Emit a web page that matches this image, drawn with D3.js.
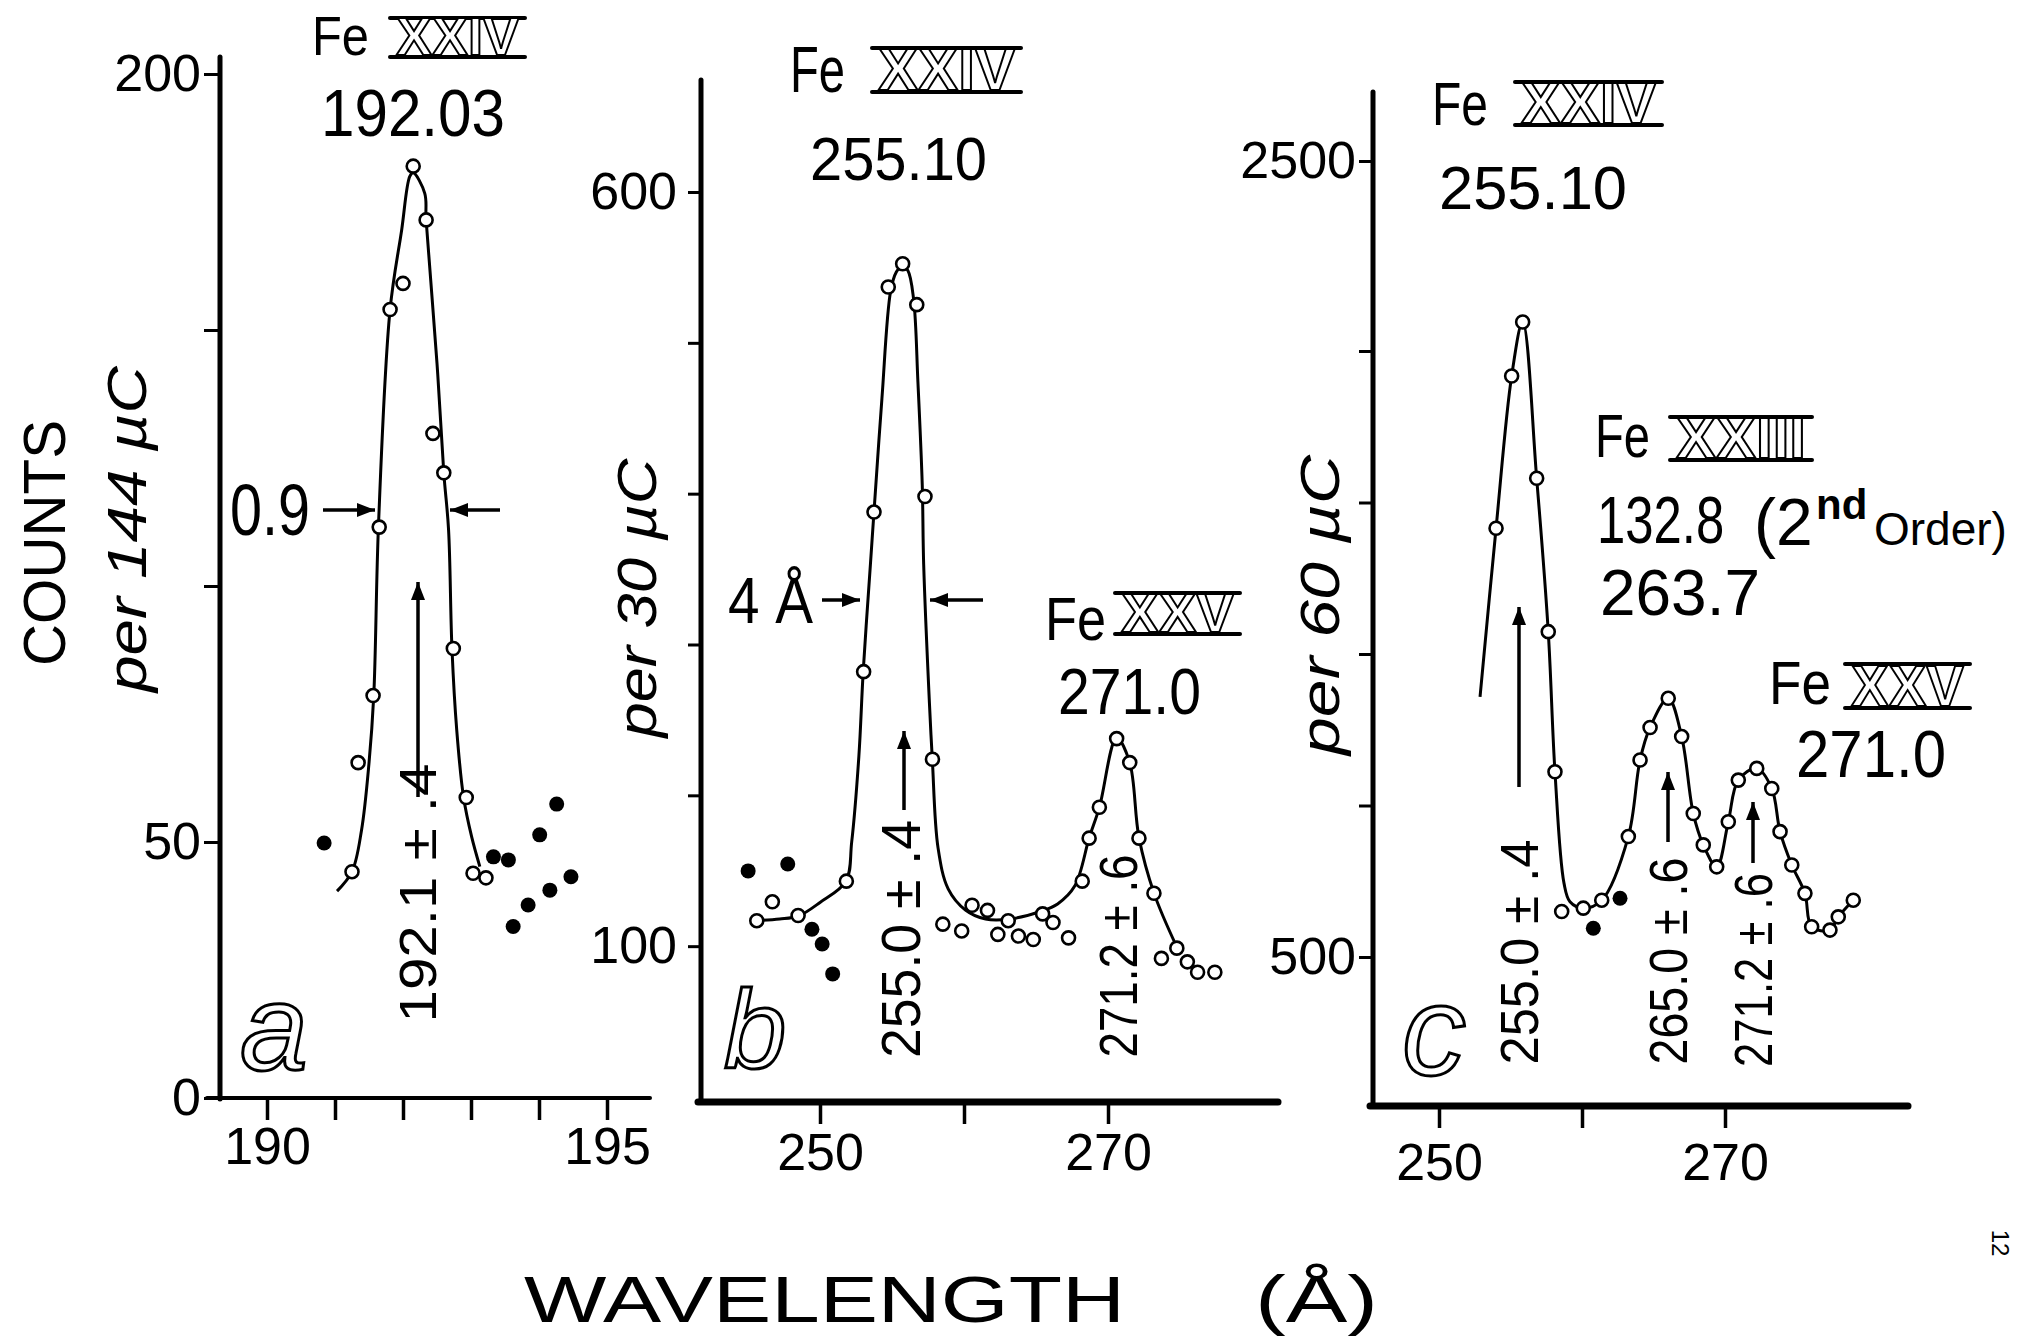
<!DOCTYPE html>
<html><head><meta charset="utf-8">
<script src="https://cdn.jsdelivr.net/npm/d3@7"></script>
<style>
html,body{margin:0;padding:0;background:#fff;}
svg{display:block;background:#fff;}
text{font-family:"Liberation Sans","DejaVu Sans",sans-serif;fill:#000;}
</style></head><body>
<svg id="chart" width="2028" height="1337"></svg>
<script>
// ================= DATA =================
// Panel a : Fe XXIV 192.03
const aYTicks = [0, 50, 100, 150, 200];
const aYLabeled = [0, 50, 200];
const aXTicks = [190, 191, 192, 193, 194, 195];
const aXLabeled = [190, 195];
const aCurveX = [191.03, 191.25, 191.39, 191.50, 191.57, 191.64, 191.81, 191.98, 192.10, 192.15, 192.32, 192.34, 192.50, 192.60, 192.67, 192.72, 192.79, 192.89, 193.01, 193.13];
const aCurveY = [40.4, 44.2, 52.3, 65.4, 78.6, 112, 154, 169.5, 180, 180.7, 176.7, 171.5, 143.5, 122.1, 111, 87.8, 71.9, 58.8, 51, 45.2];
const aOpenX = [191.25, 191.34, 191.56, 191.65, 191.81, 192.00, 192.15, 192.34, 192.44, 192.60, 192.74, 192.93, 193.03, 193.22];
const aOpenY = [44.2, 65.5, 78.6, 111.5, 154.0, 159.1, 182.0, 171.5, 129.8, 122.1, 87.8, 58.7, 43.9, 43.0];
const aFilledX = [190.84, 193.33, 193.55, 193.62, 193.84, 194.16, 194.01, 194.26, 194.47];
const aFilledY = [49.8, 47.1, 46.5, 33.5, 37.7, 40.6, 51.4, 57.4, 43.2];

// Panel b : Fe XXIV 255.10 / Fe XXV 271.0
const bYTicks = [100, 200, 300, 400, 500, 600];
const bYLabeled = [100, 600];
const bXTicks = [250, 260, 270];
const bXLabeled = [250, 270];
const bCurveX = [245.6, 247.2, 248.5, 250.0, 251.8, 252.2, 252.7, 253.0, 253.5, 253.75, 254.3, 254.9, 255.3, 255.7, 256.1, 256.5, 256.8, 257.1, 257.2, 257.6, 257.8, 258.2, 258.9, 260.1, 261.5, 263.2, 265.3, 266.5, 267.7, 268.7, 269.4, 270.6, 271.5, 272.15, 273.2, 274.8];
const bCurveY = [117, 118, 120, 129, 143, 169, 226, 282, 353, 388, 463, 534, 547, 551, 548, 529, 474, 406, 353, 261, 224, 165, 138, 124, 118, 118, 123, 128, 140, 172, 192, 238, 222, 172, 135, 99];
const bOpenX = [245.61, 246.69, 248.48, 251.83, 253.03, 253.75, 254.74, 255.74, 256.72, 257.29, 257.81, 258.53, 259.84, 260.56, 261.63, 262.35, 263.07, 263.78, 264.81, 265.46, 266.18, 267.26, 268.21, 268.69, 269.40, 270.60, 271.51, 272.15, 273.19, 274.78, 273.71, 275.51, 276.22, 277.42];
const bOpenY = [116.9, 129.4, 120.3, 143.1, 282, 387.8, 537, 552.4, 525.3, 398.1, 223.9, 114.6, 110.1, 127.1, 123.7, 107.8, 116.9, 106.7, 104.4, 121.4, 115.7, 105.5, 143.1, 171.6, 192.1, 237.6, 221.7, 171.6, 135.1, 98.7, 91.9, 89.6, 82.7, 82.7];
const bFilledX = [245.01, 247.76, 249.44, 250.15, 250.88];
const bFilledY = [149.9, 154.5, 111.2, 101.4, 81.6];

// Panel c : Fe XXIV 255.10 / Fe XXIII 263.7 / Fe XXV 271.0
const cYTicks = [500, 900, 1300, 1700, 2100, 2500];
const cYLabeled = [500, 2500];
const cXTicks = [250, 260, 270];
const cXLabeled = [250, 270];
const cCurveX = [252.87, 253.99, 255.08, 255.85, 256.83, 257.64, 258.11, 258.74, 259.16, 260.09, 261.38, 263.24, 264.06, 264.76, 266.03, 266.97, 267.78, 268.48, 269.42, 270.23, 270.93, 272.22, 273.27, 273.85, 274.67, 275.59, 276.06, 277.34, 277.92, 278.97];
const cCurveY = [1187, 1632, 2034, 2161, 1764, 1359, 989, 695, 646, 629, 650, 818, 1020, 1106, 1183, 1082, 879, 796, 738, 857, 967, 998, 945, 831, 743, 668, 580, 571, 606, 650];
const cOpenX = [253.99, 255.08, 255.85, 256.83, 257.64, 258.11, 258.58, 260.09, 261.38, 263.24, 264.06, 264.76, 266.03, 266.97, 267.78, 268.48, 269.42, 270.23, 270.93, 272.22, 273.27, 273.85, 274.67, 275.59, 276.06, 277.34, 277.92, 278.97];
const cOpenY = [1632, 2034, 2161, 1764, 1359, 989, 620, 629, 650, 818, 1020, 1106, 1183, 1082, 879, 796, 738, 857, 967, 998, 945, 831, 743, 668, 580, 571, 606, 650];
const cFilledX = [260.79, 262.66];
const cFilledY = [576, 655];

// ================= DRAWING =================
const svg = d3.select("#chart");
const INK = "#000";

const panels = {
  a: {
    x: d3.scaleLinear().domain([190, 195]).range([267, 607]),
    y: d3.scaleLinear().domain([0, 200]).range([1098, 74])
  },
  b: {
    x: d3.scaleLinear().domain([250, 270]).range([820, 1108]),
    y: d3.scaleLinear().domain([0, 600]).range([1097, 192])
  },
  c: {
    x: d3.scaleLinear().domain([250, 270]).range([1439, 1725]),
    y: d3.scaleLinear().domain([500, 2100, 2500]).range([957, 351, 161])
  }
};

function axisLines(x1, y1, x2, y2, w) {
  svg.append("line").attr("x1", x1).attr("y1", y1).attr("x2", x2).attr("y2", y2)
    .attr("stroke", INK).attr("stroke-width", w).attr("stroke-linecap", "round");
}

function yAxis(p, xPos, ticks, labeled, size, pad) {
  const ax = d3.axisLeft(p.y).tickValues(ticks).tickSize(size).tickSizeOuter(0).tickPadding(pad)
    .tickFormat(d => labeled.includes(d) ? String(d) : "");
  const g = svg.append("g").attr("transform", `translate(${xPos},0)`).call(ax)
    .attr("font-family", null).attr("font-size", null);
  g.select(".domain").remove();
  g.selectAll(".tick line").attr("stroke", INK).attr("stroke-width", 3);
  g.selectAll(".tick text").attr("font-size", 52).attr("fill", INK);
}

function xAxis(p, yPos, ticks, labeled, pad) {
  const ax = d3.axisBottom(p.x).tickValues(ticks).tickSize(22).tickSizeOuter(0).tickPadding(pad)
    .tickFormat(d => labeled.includes(d) ? String(d) : "");
  const g = svg.append("g").attr("transform", `translate(0,${yPos})`).call(ax)
    .attr("font-family", null).attr("font-size", null);
  g.select(".domain").remove();
  g.selectAll(".tick line").attr("stroke", INK).attr("stroke-width", 3.5);
  g.selectAll(".tick text").attr("font-size", 52).attr("fill", INK);
}

function series(p, cx, cy, ox, oy, fx, fy) {
  const line = d3.line().x(d => p.x(d[0])).y(d => p.y(d[1])).curve(d3.curveCatmullRom.alpha(0.5));
  svg.append("path").datum(cx.map((v, i) => [v, cy[i]])).attr("d", line)
    .attr("fill", "none").attr("stroke", INK).attr("stroke-width", 3);
  svg.append("g").selectAll("circle").data(ox.map((v, i) => [v, oy[i]])).join("circle")
    .attr("cx", d => p.x(d[0])).attr("cy", d => p.y(d[1])).attr("r", 6.5)
    .attr("fill", "#fff").attr("stroke", INK).attr("stroke-width", 2.6);
  svg.append("g").selectAll("circle").data(fx.map((v, i) => [v, fy[i]])).join("circle")
    .attr("cx", d => p.x(d[0])).attr("cy", d => p.y(d[1])).attr("r", 7.5)
    .attr("fill", INK);
}

function txt(s, x, y, size, o = {}) {
  const t = svg.append("text").attr("x", x).attr("y", y).attr("font-size", size).text(s);
  if (o.len) t.attr("textLength", o.len).attr("lengthAdjust", "spacingAndGlyphs");
  if (o.anchor) t.attr("text-anchor", o.anchor);
  if (o.italic) t.attr("font-style", "italic");
  if (o.weight) t.attr("font-weight", o.weight);
  if (o.family) t.attr("font-family", o.family);
  if (o.rot) t.attr("transform", `rotate(${o.rot},${x},${y})`);
  return t;
}

function roman(s, x1, x2, yTop, yBot, size) {
  axisLines(x1, yTop, x2, yTop, 4);
  axisLines(x1, yBot, x2, yBot, 4);
  svg.append("text").attr("x", (x1 + x2) / 2).attr("y", yBot - 2).attr("text-anchor", "middle")
    .attr("font-size", size).attr("font-weight", "bold")
    .attr("textLength", x2 - x1 - 12).attr("lengthAdjust", "spacingAndGlyphs")
    .style("fill", "#fff").attr("stroke", INK).attr("stroke-width", 2).text(s);
}

function panelLetter(s, x, y, size) {
  svg.append("text").attr("x", x).attr("y", y).attr("font-size", size)
    .attr("font-style", "italic").attr("font-family", "Liberation Serif")
    .style("fill", "#fff").attr("stroke", INK).attr("stroke-width", 3).text(s);
}

function arrow(x1, y1, x2, y2) {
  svg.append("line").attr("x1", x1).attr("y1", y1).attr("x2", x2).attr("y2", y2)
    .attr("stroke", INK).attr("stroke-width", 3.5);
  const ang = Math.atan2(y2 - y1, x2 - x1), L = 18, W = 7;
  const bx = x2 - L * Math.cos(ang), by = y2 - L * Math.sin(ang);
  const px = -Math.sin(ang) * W, py = Math.cos(ang) * W;
  svg.append("polygon").attr("points", `${x2},${y2} ${bx + px},${by + py} ${bx - px},${by - py}`)
    .attr("fill", INK);
}

// ---- axes lines ----
axisLines(220, 57, 220, 1099, 5);
axisLines(207, 1098, 650, 1098, 4);
axisLines(701, 80, 701, 1101, 5);
axisLines(698, 1102, 1278, 1102, 7);
axisLines(1373, 92, 1373, 1105, 5);
axisLines(1370, 1106, 1908, 1106, 7);

yAxis(panels.a, 220, aYTicks, aYLabeled, 16, 3);
xAxis(panels.a, 1098, aXTicks, aXLabeled, 7);
yAxis(panels.b, 701, bYTicks, bYLabeled, 13, 11);
xAxis(panels.b, 1102, bXTicks, bXLabeled, 9);
yAxis(panels.c, 1373, cYTicks, cYLabeled, 14, 3);
xAxis(panels.c, 1106, cXTicks, cXLabeled, 15);

// ---- data ----
series(panels.a, aCurveX, aCurveY, aOpenX, aOpenY, aFilledX, aFilledY);
series(panels.b, bCurveX, bCurveY, bOpenX, bOpenY, bFilledX, bFilledY);
series(panels.c, cCurveX, cCurveY, cOpenX, cOpenY, cFilledX, cFilledY);

// ---- axis titles ----
txt("COUNTS", 65, 543, 60, {anchor: "middle", rot: -90, len: 246});
txt("per 144 µC", 146, 529, 56, {anchor: "middle", rot: -90, len: 326, italic: true});
txt("per 30 µC", 656, 598, 56, {anchor: "middle", rot: -90, len: 279, italic: true});
txt("per 60 µC", 1339, 605, 56, {anchor: "middle", rot: -90, len: 300, italic: true});
txt("WAVELENGTH", 524, 1322, 64, {len: 601});
txt("(Å)", 1255, 1322, 66, {len: 123});
txt("12", 1992, 1243, 24, {anchor: "middle", rot: 90, family: "Liberation Serif"});

// ---- panel a annotations ----
txt("Fe", 312, 55, 56, {len: 57});
roman("XXIV", 390, 525, 18, 57, 54);
txt("192.03", 321, 136, 66, {len: 184});
txt("0.9", 230, 535, 72, {len: 80});
arrow(323, 510, 375, 510);
arrow(500, 510, 450, 510);
arrow(418, 797, 418, 582);
txt("192.1 ± .4", 436, 893, 52, {anchor: "middle", rot: -90, len: 259});
panelLetter("a", 240, 1070, 122);

// ---- panel b annotations ----
txt("Fe", 790, 92, 64, {len: 55});
roman("XXIV", 872, 1021, 48, 92, 60);
txt("255.10", 810, 180, 62, {len: 177});
txt("4 Å", 728, 623, 64, {len: 85});
arrow(822, 600, 860, 600);
arrow(983, 600, 930, 600);
txt("Fe", 1045, 640, 62, {len: 61});
roman("XXV", 1115, 1240, 593, 634, 56);
txt("271.0", 1058, 714, 64, {len: 143});
arrow(904, 810, 904, 731);
txt("255.0 ± .4", 920, 939, 56, {anchor: "middle", rot: -90, len: 238});
txt("271.2 ± .6", 1137, 956, 54, {anchor: "middle", rot: -90, len: 203});
panelLetter("b", 724, 1068, 112);

// ---- panel c annotations ----
txt("Fe", 1432, 125, 62, {len: 56});
roman("XXIV", 1515, 1662, 82, 125, 58);
txt("255.10", 1439, 209, 62, {len: 188});
txt("Fe", 1595, 457, 62, {len: 55});
roman("XXIII", 1670, 1812, 417, 460, 58);
svg.append("text").attr("x", 0).attr("y", 0).attr("font-size", 66)
  .attr("transform", "translate(1597,543) scale(0.77,1)").text("132.8");
const ord = svg.append("text").attr("y", 545).attr("font-size", 66);
ord.append("tspan").attr("x", 1754).text("(2");
ord.append("tspan").attr("x", 1816).attr("dy", -26).attr("font-size", 42).attr("font-weight", "bold").text("nd");
ord.append("tspan").attr("x", 1874).attr("dy", 26).attr("font-size", 46).text("Order)");
txt("263.7", 1600, 615, 64, {len: 160});
txt("Fe", 1769, 704, 62, {len: 62});
roman("XXV", 1845, 1970, 664, 708, 58);
txt("271.0", 1796, 777, 66, {len: 150});
arrow(1519, 787, 1519, 607);
arrow(1668, 842, 1668, 772);
arrow(1753, 863, 1753, 802);
txt("255.0 ± .4", 1538, 952, 53, {anchor: "middle", rot: -90, len: 225});
txt("265.0 ± .6", 1687, 961, 53, {anchor: "middle", rot: -90, len: 207});
txt("271.2 ± .6", 1772, 970, 53, {anchor: "middle", rot: -90, len: 194});
panelLetter("c", 1402, 1075, 128);
</script>
</body></html>
